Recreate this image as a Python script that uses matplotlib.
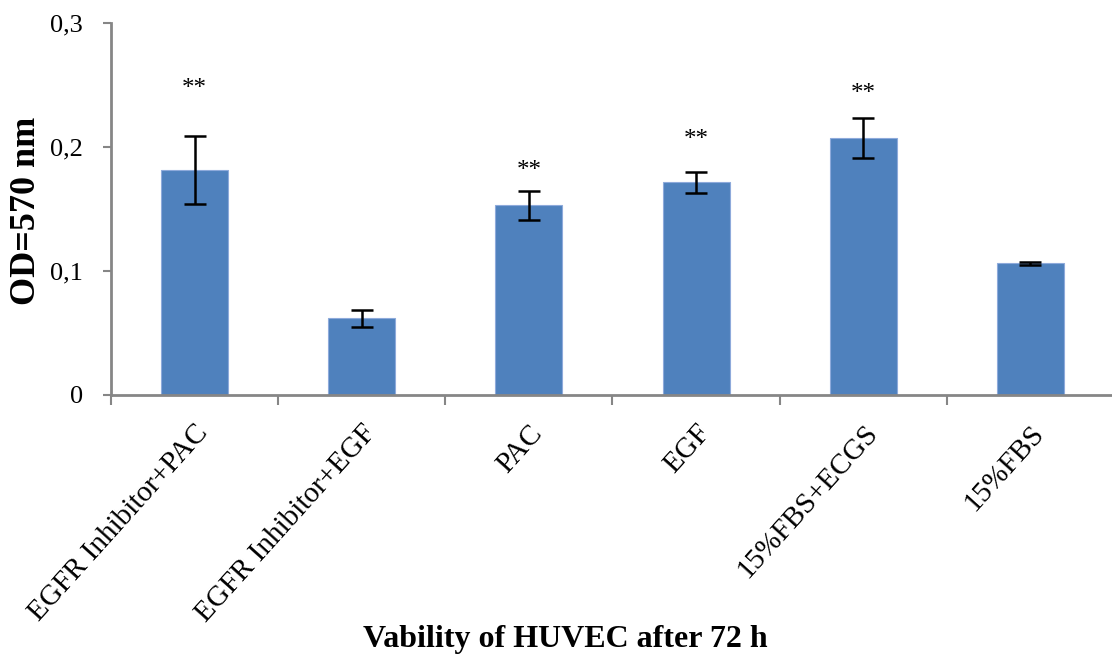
import numpy as np
import matplotlib.pyplot as plt

plt.rcParams['font.family'] = ['Liberation Serif', 'DejaVu Serif']

groups = ['EGFR Inhibitor+PAC', 'EGFR Inhibitor+EGF', 'PAC', 'EGF',
          '15%FBS+ECGS', '15%FBS']
od = [0.1815, 0.0618, 0.1530, 0.1715, 0.2073, 0.1062]
sd = [0.0273, 0.0067, 0.0117, 0.0086, 0.0162, 0.0013]
# significance marks and the height each one sits at
marks = ['**', '', '**', '**', '**', '']
mark_y = [0.2516, 0, 0.1855, 0.2105, 0.2476, 0]

yticks = [0, 0.1, 0.2, 0.3]
ytick_labels = ['0', '0,1', '0,2', '0,3']

axis_grey = '#868686'
bar_blue = '#4F81BD'

fig = plt.figure(figsize=(11.12, 6.58), dpi=100)
ax = fig.add_axes([0.0998, 0.3997, 0.902, 0.5653])

x = np.arange(len(groups))
ax.bar(x, od, width=0.4, color=bar_blue, edgecolor='#8EAADB', linewidth=0.8,
       zorder=2)
ax.errorbar(x, od, yerr=sd, fmt='none', ecolor='black', elinewidth=1.8,
            capsize=8, capthick=1.8, zorder=3)

# asterisks sit high in their box, so nudge the text down a little
for xi, m, ym in zip(x, marks, mark_y):
    if m:
        ax.annotate(m, (xi, ym), xytext=(0, -4), textcoords='offset points',
                    ha='center', va='center', fontsize=18)

ax.set_xlim(-0.5, len(groups) - 0.5)
ax.set_ylim(0, 0.3)

ax.set_yticks(yticks)
ax.set_yticklabels(ytick_labels, fontsize=19)
ax.tick_params(axis='y', direction='out', length=6, width=1.5,
               color=axis_grey, pad=14)

# labels centred under the bars, tick marks between categories
ax.set_xticks(x)
ax.set_xticklabels(groups, rotation=48, ha='right', rotation_mode='anchor',
                   fontsize=21)
ax.tick_params(axis='x', which='major', length=0, pad=18)
ax.set_xticks(np.arange(-0.5, len(groups)), minor=True)
ax.tick_params(axis='x', which='minor', direction='out', length=7, width=1.5,
               color=axis_grey)

for side in ['top', 'right']:
    ax.spines[side].set_visible(False)
for side in ['left', 'bottom']:
    ax.spines[side].set_color(axis_grey)
    ax.spines[side].set_linewidth(2)

fig.text(0.0234, 0.679, 'OD=570 nm', rotation=90, ha='center', va='center',
         fontsize=26, fontweight='bold')
fig.text(0.508, 0.028, 'Vability of HUVEC after 72 h', ha='center',
         va='center', fontsize=23, fontweight='bold')

fig.savefig('out.png', dpi=100)
